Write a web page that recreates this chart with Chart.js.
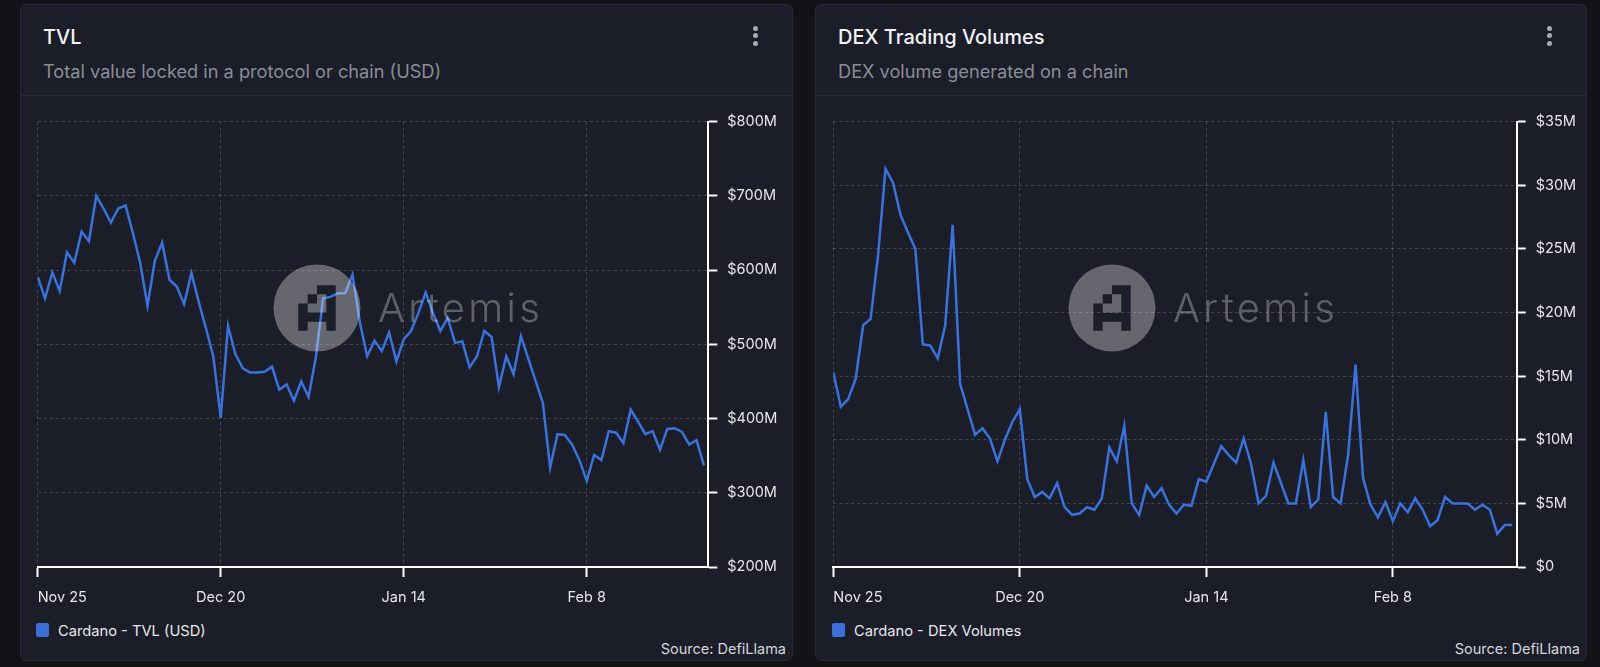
<!DOCTYPE html>
<html>
<head>
<meta charset="utf-8">
<script src="https://cdn.jsdelivr.net/npm/chart.js@4.4.1/dist/chart.umd.min.js"></script>
<style>
html, body { margin: 0; padding: 0; background: #121317; width: 1600px; height: 667px; overflow: hidden; font-family: Inter, "Noto Sans", sans-serif; }
.card { position: absolute; top: 4px; width: 773px; height: 657px; box-sizing: border-box; background: #1b1d28; border: 1px solid #282b37; border-radius: 6px; }
.title { position: absolute; left: 22px; top: 20px; font-size: 20px; font-weight: 500; line-height: 24px; color: #f1f2f4; white-space: nowrap; }
.sub { position: absolute; left: 22px; top: 55px; font-size: 18.2px; line-height: 22px; color: #8a8d97; white-space: nowrap; }
.sep { position: absolute; left: 0; right: 0; top: 90px; height: 1px; background: #2a2d39; }
.dot { position: absolute; width: 5px; height: 5px; border-radius: 50%; background: #a9abb3; }
.leg-box { position: absolute; left: 15px; top: 618px; width: 13px; height: 14px; border-radius: 2px; background: #3a6fd8; }
.leg-txt { position: absolute; left: 37px; top: 617px; font-size: 14.7px; line-height: 18px; color: #e8e9ec; white-space: nowrap; }
.src { position: absolute; right: 6px; top: 635px; font-size: 14.5px; line-height: 18px; color: #d4d6dc; white-space: nowrap; }
.plot { position: absolute; top: 100px; width: 773px; height: 525px; }
.plot canvas, .plot svg { position: absolute; left: 0; top: 0; }
.plot svg { pointer-events: none; }
</style>
</head>
<body>

<div class="card" style="left:20px">
  <div class="title">TVL</div>
  <div class="sub">Total value locked in a protocol or chain (USD)</div>
  <div class="dot" style="left:732px;top:21px"></div>
  <div class="dot" style="left:732px;top:28px"></div>
  <div class="dot" style="left:732px;top:36px"></div>
  <div class="sep"></div>
  <div class="leg-box"></div>
  <div class="leg-txt" id="leg1"></div>
  <div class="src">Source: DefiLlama</div>
</div>

<div class="card" style="left:815px;width:772px">
  <div class="title">DEX Trading Volumes</div>
  <div class="sub">DEX volume generated on a chain</div>
  <div class="dot" style="left:731px;top:21px"></div>
  <div class="dot" style="left:731px;top:28px"></div>
  <div class="dot" style="left:731px;top:36px"></div>
  <div class="sep"></div>
  <div class="leg-box" style="left:16px"></div>
  <div class="leg-txt" id="leg2" style="left:38px"></div>
  <div class="src">Source: DefiLlama</div>
</div>

<div class="plot" style="left:20px"><canvas id="tvlChart" width="773" height="525"></canvas><svg id="wm1" width="773" height="525"></svg></div>
<div class="plot" style="left:815px;width:772px"><canvas id="dexChart" width="772" height="525"></canvas><svg id="wm2" width="772" height="525"></svg></div>

<script>
// x axis: one value per day starting Nov 25
const xTickLabels = ['Nov 25', 'Dec 20', 'Jan 14', 'Feb 8'];
const xTickDays = [0, 25, 50, 75];

const tvlSeries = 'Cardano - TVL (USD)';
// TVL in $M
const tvlValues = [
  591, 562, 597, 572, 624, 610, 652, 639, 700, 683,
  664, 683, 687, 650, 610, 552, 613, 637, 587, 578,
  554, 596, 557, 521, 483, 401, 525, 487, 468, 462,
  462, 463, 470, 439, 446, 424, 450, 429, 483, 562,
  564, 569, 569, 594, 530, 484, 505, 491, 516, 477,
  507, 518, 542, 570, 542, 518, 536, 502, 504, 469,
  484, 518, 510, 442, 484, 460, 511, 481, 451, 421,
  334, 379, 378, 365, 344, 316, 351, 344, 383, 381,
  367, 412, 396, 379, 383, 358, 386, 387, 382, 365,
  371, 337
];

const dexSeries = 'Cardano - DEX Volumes';
// DEX volume in $M
const dexValues = [
  15.3, 12.6, 13.2, 14.8, 19.0, 19.5, 24.5, 31.3, 30.2, 27.7,
  26.3, 25.0, 17.5, 17.4, 16.4, 19.0, 26.9, 14.4, 12.4, 10.4,
  10.9, 10.1, 8.3, 10.0, 11.4, 12.4, 6.9, 5.5, 5.9, 5.4,
  6.6, 4.7, 4.1, 4.2, 4.7, 4.5, 5.4, 9.4, 8.3, 11.1,
  5.0, 4.1, 6.4, 5.5, 6.2, 4.9, 4.2, 4.9, 4.8, 6.9,
  6.7, 8.1, 9.5, 8.8, 8.2, 10.1, 8.1, 5.0, 5.6, 8.2,
  6.6, 5.0, 5.0, 8.4, 4.7, 5.3, 12.2, 5.5, 5.0, 8.8,
  15.9, 7.0, 4.9, 3.9, 5.1, 3.6, 5.0, 4.3, 5.4, 4.5,
  3.2, 3.7, 5.5, 5.0, 5.0, 5.0, 4.5, 4.9, 4.5, 2.6,
  3.3, 3.3
];

Chart.defaults.font.family = 'Inter';
Chart.defaults.font.size = 14.5;

const gridCol = 'rgba(255,255,255,0.18)';
const none = 'rgba(0,0,0,0)';

function makeChart(id, label, values, yMin, yMax, yStep, fmt, padLeft, yWidth) {
  const xEnd = 91.6;
  return new Chart(document.getElementById(id), {
    type: 'line',
    data: {
      datasets: [{
        label: label,
        data: values.map((v, i) => ({x: i, y: v})),
        borderColor: '#3a72dc',
        borderWidth: 2.5,
        pointRadius: 0,
        tension: 0,
        fill: false
      }]
    },
    options: {
      responsive: false,
      animation: false,
      events: [],
      layout: {padding: {left: padLeft, top: 21.7, right: 0, bottom: 0}},
      plugins: {legend: {display: false}, tooltip: {enabled: false}},
      scales: {
        x: {
          type: 'linear', min: 0, max: xEnd,
          afterBuildTicks: s => { s.ticks = xTickDays.map(v => ({value: v})).concat([{value: xEnd}]); },
          afterFit: s => { s.height = 58; },
          ticks: {autoSkip: false, maxRotation: 0, align: 'inner', padding: 12, color: '#e6e7eb',
                  callback: (v, i) => xTickLabels[i] || ''},
          grid: {
            color: c => c.index === xTickDays.length ? none : gridCol,
            tickColor: c => c.index === xTickDays.length ? none : '#ffffff',
            tickLength: 10, tickWidth: 2
          },
          border: {display: true, color: '#ffffff', width: 2, dash: [3, 3]}
        },
        y: {
          position: 'right', min: yMin, max: yMax,
          afterFit: s => { s.width = yWidth; },
          ticks: {stepSize: yStep, padding: 10, color: '#e6e7eb', callback: fmt},
          grid: {color: gridCol, tickColor: '#ffffff', tickLength: 9, tickWidth: 2},
          border: {color: '#ffffff', width: 2, dash: [3, 3]}
        }
      }
    }
  });
}

makeChart('tvlChart', tvlSeries, tvlValues, 200, 800, 100, v => '$' + v + 'M', 17.7, 84.7);
makeChart('dexChart', dexSeries, dexValues, 0, 35, 5, v => v === 0 ? '$0' : '$' + v + 'M', 18.3, 70.3);

document.getElementById('leg1').textContent = tvlSeries;
document.getElementById('leg2').textContent = dexSeries;

// watermark: circle with pixel "A" cut out, plus the word
function watermark(id) {
  const svg = document.getElementById(id);
  const ns = 'http://www.w3.org/2000/svg';
  const cx = 297, cy = 208, r = 43.5;
  const cw = 9.35, ch = 9.14;
  const rows = ['..XX', '.X.X', 'X..X', 'XXXX', 'X..X'];
  let d = 'M' + (cx - r) + ' ' + cy + ' a' + r + ' ' + r + ' 0 1 0 ' + (2 * r) + ' 0 a' + r + ' ' + r + ' 0 1 0 ' + (-2 * r) + ' 0Z';
  const gx = cx - 2 * cw, gy = cy - 2.5 * ch;
  rows.forEach((row, ri) => {
    for (let ci = 0; ci < row.length; ci++) {
      if (row[ci] === 'X') {
        d += 'M' + (gx + ci * cw) + ' ' + (gy + ri * ch) + 'h' + cw + 'v' + ch + 'h' + (-cw) + 'Z';
      }
    }
  });
  const p = document.createElementNS(ns, 'path');
  p.setAttribute('d', d);
  p.setAttribute('fill', 'rgba(255,255,255,0.33)');
  p.setAttribute('fill-rule', 'evenodd');
  svg.appendChild(p);
  const t = document.createElementNS(ns, 'text');
  t.setAttribute('x', 358);
  t.setAttribute('y', 222);
  t.setAttribute('font-family', 'Inter');
  t.setAttribute('font-weight', 300);
  t.setAttribute('font-size', 40);
  t.setAttribute('textLength', 162);
  t.setAttribute('lengthAdjust', 'spacing');
  t.setAttribute('fill', 'rgba(255,255,255,0.3)');
  t.textContent = 'Artemis';
  svg.appendChild(t);
}
watermark('wm1');
watermark('wm2');
</script>
</body>
</html>
